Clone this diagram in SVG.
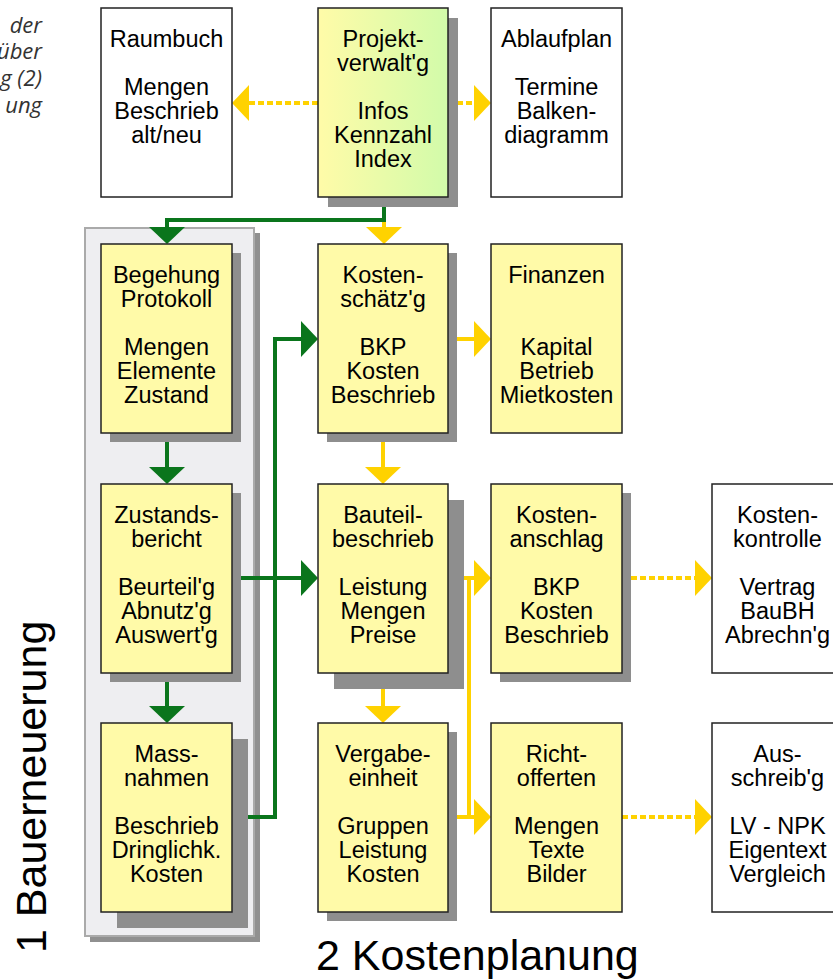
<svg xmlns="http://www.w3.org/2000/svg" width="833" height="980" viewBox="0 0 833 980">
<defs>
<linearGradient id="gProj" x1="0" y1="0" x2="1" y2="0">
<stop offset="0" stop-color="#fffba8"/>
<stop offset="1" stop-color="#d2fbaa"/>
</linearGradient>
<marker id="aG" viewBox="0 0 17 36" markerWidth="17" markerHeight="36" refX="0" refY="18" orient="auto" markerUnits="userSpaceOnUse"><path d="M0,0 L17,18 L0,36 z" fill="#0a751c"/></marker>
<marker id="aY" viewBox="0 0 17 36" markerWidth="17" markerHeight="36" refX="0" refY="18" orient="auto" markerUnits="userSpaceOnUse"><path d="M0,0 L17,18 L0,36 z" fill="#ffd200"/></marker>
<style>
.box{fill:#fffaa8;stroke:#222;stroke-width:1.5}
.wbox{fill:#fff;stroke:#222;stroke-width:1.5}
.sh{fill:#8e8e8e}
.t{font-family:"Liberation Sans",Arial,sans-serif;font-size:23.5px;fill:#000;text-anchor:middle}
.g{fill:none;stroke:#0a751c;stroke-width:4;marker-end:url(#aG)}
.gl{fill:none;stroke:#0a751c;stroke-width:4}
.y{fill:none;stroke:#ffd200;stroke-width:4;marker-end:url(#aY)}
.yl{fill:none;stroke:#ffd200;stroke-width:4}
.yd{fill:none;stroke:#ffd200;stroke-width:4;stroke-dasharray:6 3;marker-end:url(#aY)}
.it{font-family:"Open Sans","Liberation Sans",sans-serif;font-style:italic;font-weight:400;font-size:22px;fill:#333;text-anchor:end}
.big{font-family:"Liberation Sans",Arial,sans-serif;font-size:43px;fill:#000}
</style>
</defs>
<rect width="833" height="980" fill="#fff"/>

<g id="note">
<text class="it" x="42" y="33">der</text>
<text class="it" x="42" y="59">über</text>
<text class="it" x="42" y="86">g (2)</text>
<text class="it" x="42" y="113">ung</text>
</g>

<g id="container">
<rect x="90" y="233" width="170" height="709" fill="#909090"/>
<rect x="85" y="228" width="169" height="708" fill="#eeeef1" stroke="#aaa" stroke-width="2"/>
</g>

<g id="labels">
<text class="big" x="316" y="970">2 Kostenplanung</text>
<text class="big" transform="translate(46,953) rotate(-90)">1 Bauerneuerung</text>
</g>

<g id="connectors">
<path class="y" d="M384,214 V227"/>
<path class="g" d="M384,197 V220 H167 V227"/>
<path class="g" d="M167,433 V467"/>
<path class="g" d="M167,673 V706"/>
<path class="g" d="M275,817 V339 H301"/>
<path class="gl" d="M232,817 H277"/>
<path class="g" d="M232,578 H301"/>
<path class="yd" d="M318,103 H249"/>
<path class="yd" d="M448,103 H474"/>
<path class="y" d="M448,339 H474"/>
<path class="y" d="M383,433 V467"/>
<path class="y" d="M383,673 V706"/>
<path class="y" d="M448,578 H474"/>
<path class="yl" d="M469,578 V817"/>
<path class="y" d="M448,817 H474"/>
<path class="yd" d="M622,578 H695"/>
<path class="yd" d="M622,817 H695"/>
</g>

<g id="raumbuch">
<rect class="wbox" x="101" y="8" width="131" height="189"/>
<text class="t" x="166.5" y="47">Raumbuch</text>
<text class="t" x="166.5" y="95">Mengen</text>
<text class="t" x="166.5" y="119">Beschrieb</text>
<text class="t" x="166.5" y="143">alt/neu</text>
</g>

<g id="projekt">
<rect class="sh" x="328" y="18" width="130" height="189"/>
<rect x="318" y="8" width="130" height="189" fill="url(#gProj)" stroke="#222" stroke-width="1.5"/>
<text class="t" x="383" y="47">Projekt-</text>
<text class="t" x="383" y="71">verwalt'g</text>
<text class="t" x="383" y="119">Infos</text>
<text class="t" x="383" y="143">Kennzahl</text>
<text class="t" x="383" y="167">Index</text>
</g>

<g id="ablaufplan">
<rect class="wbox" x="491" y="8" width="131" height="189"/>
<text class="t" x="556.5" y="47">Ablaufplan</text>
<text class="t" x="556.5" y="95">Termine</text>
<text class="t" x="556.5" y="119">Balken-</text>
<text class="t" x="556.5" y="143">diagramm</text>
</g>

<g id="begehung">
<rect class="sh" x="110" y="253" width="131" height="189"/>
<rect class="box" x="101" y="244" width="131" height="189"/>
<text class="t" x="166.5" y="283">Begehung</text>
<text class="t" x="166.5" y="307">Protokoll</text>
<text class="t" x="166.5" y="355">Mengen</text>
<text class="t" x="166.5" y="379">Elemente</text>
<text class="t" x="166.5" y="403">Zustand</text>
</g>

<g id="kostenschaetzung">
<rect class="sh" x="327" y="253" width="130" height="189"/>
<rect class="box" x="318" y="244" width="130" height="189"/>
<text class="t" x="383" y="283">Kosten-</text>
<text class="t" x="383" y="307">schätz'g</text>
<text class="t" x="383" y="355">BKP</text>
<text class="t" x="383" y="379">Kosten</text>
<text class="t" x="383" y="403">Beschrieb</text>
</g>

<g id="finanzen">
<rect class="box" x="491" y="244" width="131" height="189"/>
<text class="t" x="556.5" y="283">Finanzen</text>
<text class="t" x="556.5" y="355">Kapital</text>
<text class="t" x="556.5" y="379">Betrieb</text>
<text class="t" x="556.5" y="403">Mietkosten</text>
</g>

<g id="zustandsbericht">
<rect class="sh" x="110" y="493" width="131" height="189"/>
<rect class="box" x="101" y="484" width="131" height="189"/>
<text class="t" x="166.5" y="523">Zustands-</text>
<text class="t" x="166.5" y="547">bericht</text>
<text class="t" x="166.5" y="595">Beurteil'g</text>
<text class="t" x="166.5" y="619">Abnutz'g</text>
<text class="t" x="166.5" y="643">Auswert'g</text>
</g>

<g id="bauteilbeschrieb">
<rect class="sh" x="334" y="500" width="130" height="189"/>
<rect class="box" x="318" y="484" width="130" height="189"/>
<text class="t" x="383" y="523">Bauteil-</text>
<text class="t" x="383" y="547">beschrieb</text>
<text class="t" x="383" y="595">Leistung</text>
<text class="t" x="383" y="619">Mengen</text>
<text class="t" x="383" y="643">Preise</text>
</g>

<g id="kostenanschlag">
<rect class="sh" x="500" y="493" width="131" height="189"/>
<rect class="box" x="491" y="484" width="131" height="189"/>
<text class="t" x="556.5" y="523">Kosten-</text>
<text class="t" x="556.5" y="547">anschlag</text>
<text class="t" x="556.5" y="595">BKP</text>
<text class="t" x="556.5" y="619">Kosten</text>
<text class="t" x="556.5" y="643">Beschrieb</text>
</g>

<g id="kostenkontrolle">
<rect class="wbox" x="712" y="484" width="131" height="189"/>
<text class="t" x="777.5" y="523">Kosten-</text>
<text class="t" x="777.5" y="547">kontrolle</text>
<text class="t" x="777.5" y="595">Vertrag</text>
<text class="t" x="777.5" y="619">BauBH</text>
<text class="t" x="777.5" y="643">Abrechn'g</text>
</g>

<g id="massnahmen">
<rect class="sh" x="117" y="739" width="131" height="189"/>
<rect class="box" x="101" y="723" width="131" height="189"/>
<text class="t" x="166.5" y="762">Mass-</text>
<text class="t" x="166.5" y="786">nahmen</text>
<text class="t" x="166.5" y="834">Beschrieb</text>
<text class="t" x="166.5" y="858">Dringlichk.</text>
<text class="t" x="166.5" y="882">Kosten</text>
</g>

<g id="vergabeeinheit">
<rect class="sh" x="327" y="732" width="130" height="189"/>
<rect class="box" x="318" y="723" width="130" height="189"/>
<text class="t" x="383" y="762">Vergabe-</text>
<text class="t" x="383" y="786">einheit</text>
<text class="t" x="383" y="834">Gruppen</text>
<text class="t" x="383" y="858">Leistung</text>
<text class="t" x="383" y="882">Kosten</text>
</g>

<g id="richtofferten">
<rect class="box" x="491" y="723" width="131" height="189"/>
<text class="t" x="556.5" y="762">Richt-</text>
<text class="t" x="556.5" y="786">offerten</text>
<text class="t" x="556.5" y="834">Mengen</text>
<text class="t" x="556.5" y="858">Texte</text>
<text class="t" x="556.5" y="882">Bilder</text>
</g>

<g id="ausschreibung">
<rect class="wbox" x="712" y="723" width="131" height="189"/>
<text class="t" x="777.5" y="762">Aus-</text>
<text class="t" x="777.5" y="786">schreib'g</text>
<text class="t" x="777.5" y="834">LV - NPK</text>
<text class="t" x="777.5" y="858">Eigentext</text>
<text class="t" x="777.5" y="882">Vergleich</text>
</g>
</svg>
